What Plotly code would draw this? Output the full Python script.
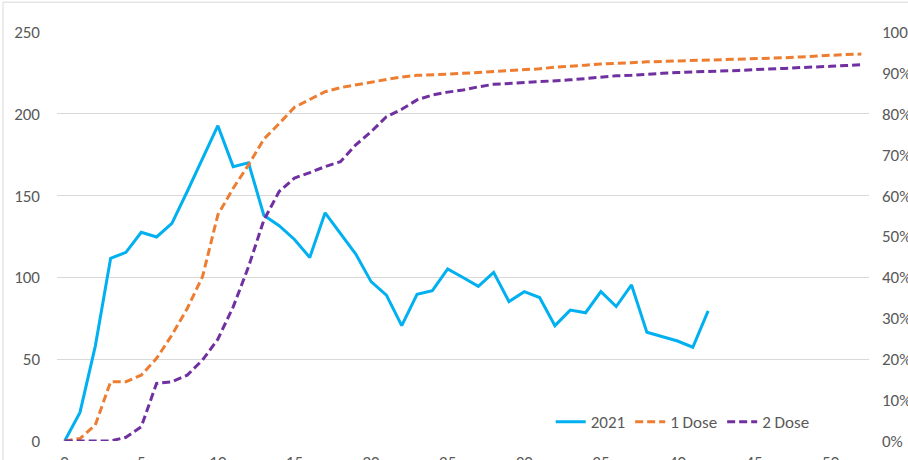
import plotly.graph_objects as go

# weekly values
weeks = list(range(0, 53))

cases_2021 = [0, 17.5, 58, 111.7, 115.3, 127.6, 124.7, 133, 152.5, 172.5,
              192.7, 167.7, 170, 138, 131.6, 123.2, 112.2, 139.5, 127, 114.3,
              97.4, 89.2, 70.5, 89.7, 91.9, 105.2, 99.9, 94.5, 103.1, 85.2,
              91.3, 87.7, 70.5, 80, 78.4, 91.3, 82.2, 95.4, 66.5, 63.8,
              61.1, 57.3, 79.5]

dose_1 = [0, 0.006, 0.039, 0.145, 0.145, 0.161, 0.202, 0.259, 0.324, 0.402,
          0.553, 0.618, 0.675, 0.738, 0.776, 0.816, 0.835, 0.854, 0.864, 0.870,
          0.877, 0.884, 0.890, 0.894, 0.895, 0.897, 0.899, 0.901, 0.903, 0.905,
          0.907, 0.910, 0.914, 0.916, 0.919, 0.922, 0.923, 0.925, 0.927, 0.928,
          0.930, 0.930, 0.932, 0.933, 0.934, 0.935, 0.936, 0.937, 0.939, 0.941,
          0.944, 0.945, 0.946]

dose_2 = [0, 0, 0, 0, 0.009, 0.035, 0.141, 0.145, 0.161, 0.198,
          0.249, 0.328, 0.426, 0.540, 0.610, 0.643, 0.656, 0.671, 0.683, 0.724,
          0.756, 0.793, 0.811, 0.834, 0.846, 0.853, 0.858, 0.866, 0.872, 0.874,
          0.877, 0.879, 0.881, 0.883, 0.886, 0.889, 0.893, 0.894, 0.897, 0.899,
          0.901, 0.902, 0.903, 0.905, 0.906, 0.908, 0.909, 0.911, 0.913, 0.914,
          0.916, 0.918, 0.920]

FONT = "Calibri, Carlito, 'Liberation Sans Narrow', 'Liberation Sans', sans-serif"
GREY = "#595959"
GRID = "#d9d9d9"

fig = go.Figure()

fig.add_trace(go.Scatter(x=weeks[:len(cases_2021)], y=cases_2021, name="2021",
                         mode="lines", line=dict(color="#00B0F0", width=3)))
fig.add_trace(go.Scatter(x=weeks, y=dose_1, name="1 Dose", yaxis="y2",
                         mode="lines", line=dict(color="#ED7D31", width=3, dash="8px,4px")))
fig.add_trace(go.Scatter(x=weeks, y=dose_2, name="2 Dose", yaxis="y2",
                         mode="lines", line=dict(color="#7030A0", width=3, dash="8px,4px")))

fig.update_layout(
    width=908, height=460,
    margin=dict(l=57, r=39, t=32, b=19),
    paper_bgcolor="white", plot_bgcolor="white",
    font=dict(family=FONT, size=17, color=GREY),
    xaxis=dict(range=[-0.5, 52.5], tickvals=list(range(0, 55, 5)), showgrid=False,
               zeroline=False, showline=False, ticks="", ticklabelstandoff=9,
               automargin=False),
    yaxis=dict(range=[0, 250], dtick=50, showgrid=True, gridcolor=GRID, gridwidth=1,
               zeroline=False, showline=False, ticks="", ticklabelstandoff=16,
               automargin=False),
    yaxis2=dict(range=[0, 1], dtick=0.1, tickformat=".0%", overlaying="y", side="right",
                showgrid=False, zeroline=False, showline=False, ticks="",
                ticklabelstandoff=12, automargin=False),
    legend=dict(orientation="h", x=0.608, y=0.046, xanchor="left", yanchor="middle",
                bgcolor="rgba(0,0,0,0)", font=dict(size=17, color=GREY)),
    showlegend=True,
)

# chart-area border (only left and top edges fall inside the window)
fig.add_shape(type="rect", xref="paper", yref="paper",
              x0=-0.0665, x1=1.3, y0=-0.3, y1=1.073,
              line=dict(color=GRID, width=1), layer="below")

# drop the browser's default body margin so the chart sits at the page corner
fig.write_html("out.html", config={"displayModeBar": False},
               post_script="document.body.style.margin='0';")
